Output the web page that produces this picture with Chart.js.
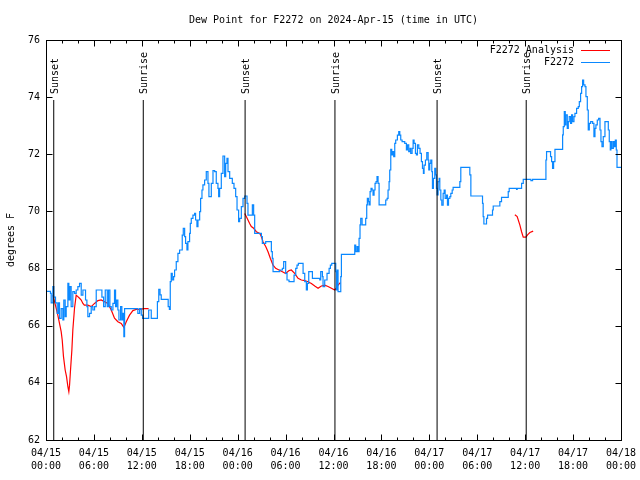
<!DOCTYPE html>
<html>
<head>
<meta charset="utf-8">
<script src="https://cdn.jsdelivr.net/npm/chart.js@4.4.1/dist/chart.umd.min.js"></script>
<style>body{margin:0;background:#fff}</style>
</head>
<body>
<canvas id="myChart" width="640" height="480"></canvas>
<script>
// hours since 2024-04-15 00:00 UTC
const obsHours = [
    0, 0.56, 0.65, 0.86, 0.98, 1.19, 1.4, 1.57, 1.69, 1.9, 2.11, 2.23, 2.4, 2.53, 2.74, 2.86, 2.99,
    3.15, 3.36, 3.57, 3.78, 3.99, 4.2, 4.41, 4.62, 4.95, 5.12, 5.24, 5.45, 5.66, 5.87, 6.08, 6.29,
    7.0, 7.21, 7.42, 7.67, 7.83, 8.0, 8.17, 8.38, 8.58, 8.71, 8.84, 9.0, 9.13, 9.34, 9.5, 9.63, 9.75,
    9.84, 11.5, 11.72, 11.93, 12.1, 12.86, 13.18, 13.95, 14.12, 14.28, 14.43, 15.3, 15.45, 15.56,
    15.68, 15.81, 15.98, 16.1, 16.31, 16.52, 16.73, 17.06, 17.19, 17.36, 17.48, 17.65, 17.77, 17.98,
    18.07, 18.19, 18.4, 18.61, 18.73, 18.9, 19.03, 19.24, 19.36, 19.53, 19.65, 19.86, 20.07, 20.28,
    20.4, 20.7, 20.91, 21.12, 21.32, 21.53, 21.62, 21.74, 21.95, 22.16, 22.37, 22.5, 22.66, 22.79,
    23.0, 23.33, 23.54, 23.75, 23.92, 24.12, 24.25, 24.46, 24.67, 24.88, 25.17, 25.29, 25.71, 25.84,
    26.0, 26.13, 26.97, 27.09, 27.51, 28.22, 28.34, 28.43, 29.26, 29.6, 29.76, 30.01, 30.18, 30.43,
    31.06, 31.27, 31.43, 31.6, 32.19, 32.4, 32.6, 32.73, 32.9, 33.36, 34.28, 34.4, 34.61, 34.69,
    34.9, 35.19, 35.45, 35.61, 35.78, 36.28, 36.36, 36.45, 36.57, 36.91, 36.99, 38.45, 38.66, 38.78,
    38.95, 39.07, 39.2, 39.32, 39.41, 39.58, 40.03, 40.16, 40.24, 40.37, 40.45, 40.58, 40.7, 40.83,
    40.95, 41.08, 41.2, 41.33, 41.45, 41.58, 41.71, 42.54, 42.71, 42.83, 42.96, 43.04, 43.17, 43.29,
    43.42, 43.54, 43.67, 43.79, 44.0, 44.17, 44.3, 44.42, 44.59, 44.92, 45.13, 45.26, 45.42, 45.59,
    45.67, 45.84, 45.97, 46.09, 46.26, 46.38, 46.51, 46.68, 46.84, 47.01, 47.14, 47.26, 47.34, 47.51,
    47.68, 47.85, 47.93, 48.05, 48.18, 48.31, 48.39, 48.51, 48.68, 48.81, 48.89, 48.97, 49.1, 49.23,
    49.31, 49.44, 49.56, 49.73, 49.86, 49.98, 50.15, 50.27, 50.4, 50.57, 50.69, 50.86, 50.98, 51.82,
    51.94, 53.07, 53.2, 54.66, 54.74, 54.83, 55.16, 55.29, 55.91, 56.0, 56.83, 57.04, 57.88, 58.0,
    58.92, 59.0, 59.55, 59.76, 60.72, 60.93, 62.6, 62.68, 63.18, 63.31, 63.43, 63.56, 63.73, 64.69,
    64.77, 64.9, 65.02, 65.1, 65.27, 65.4, 65.52, 65.69, 65.81, 65.94, 66.11, 66.23, 66.44, 66.65,
    66.78, 66.94, 67.07, 67.19, 67.32, 67.49, 67.61, 67.78, 67.9, 68.03, 68.2, 68.45, 68.61, 68.74,
    68.86, 69.03, 69.2, 69.37, 69.49, 69.62, 69.78, 69.99, 70.41, 70.53, 70.66, 70.74, 70.87, 71.04,
    71.16, 71.29, 71.41, 71.5, 72
];
const obsDewPt = [
    67.2, 67.13, 66.8, 67.37, 67.0, 66.8, 66.43, 66.8, 66.26, 66.6, 66.2, 66.9, 66.32, 66.67, 67.48, 66.9, 67.37,
    66.67, 67.19, 67.13, 67.25, 67.37, 67.48, 67.07, 67.25, 66.9, 66.67, 66.32, 66.43, 66.67, 66.55, 66.67, 67.25,
    67.0, 66.67, 67.25, 66.67, 67.25, 66.67, 66.55, 66.78, 67.25, 66.67, 66.9, 66.55, 66.2, 66.67, 66.2, 66.43, 65.62,
    66.6, 66.43, 66.6, 66.37, 66.26, 66.55, 66.26, 66.84, 67.27, 67.08, 66.92, 66.67, 66.57, 67.54,
    67.83, 67.6, 67.72, 67.95, 68.24, 68.53, 68.65, 69.17, 69.41, 69.12, 68.88, 68.65, 68.94, 69.23,
    69.58, 69.76, 69.87, 69.93, 69.7, 69.47, 69.7, 69.99, 70.46, 70.75, 70.93, 71.1, 71.39, 70.98,
    70.52, 70.98, 71.43, 71.39, 70.98, 70.81, 70.52, 70.81, 71.33, 71.94, 71.22, 71.68, 71.86, 71.39,
    71.16, 70.98, 70.81, 70.52, 70.05, 69.64, 69.76, 70.17, 70.46, 70.54, 70.28, 69.87, 69.87, 70.23,
    69.87, 69.23, 69.12, 68.88, 68.94, 68.59, 68.36, 67.89, 67.95, 68.01, 68.24, 67.83, 67.6, 67.54,
    67.77, 68.01, 68.12, 68.18, 67.83, 67.54, 67.25, 67.48, 67.89, 67.66, 67.6, 67.89, 67.72, 67.37,
    67.6, 67.83, 68.01, 68.12, 68.18, 67.89, 67.25, 67.95, 67.19, 67.72, 68.5, 68.5, 68.82, 68.59,
    68.77, 68.59, 69.06, 69.53, 69.76, 69.53, 69.76, 70.23, 70.46, 70.34, 70.23, 70.69, 70.81, 70.75,
    70.57, 70.75, 70.98, 71.04, 71.22, 70.98, 70.23, 70.4, 70.46, 70.75, 71.04, 71.45, 72.17, 71.98,
    72.09, 71.92, 72.38, 72.5, 72.67, 72.79, 72.67, 72.5, 72.44, 72.38, 72.15, 72.33, 72.09, 72.21,
    72.03, 72.21, 72.5, 72.38, 72.03, 71.98, 72.33, 72.21, 72.03, 71.74, 71.51, 71.33, 71.62, 71.8,
    72.06, 71.8, 71.45, 71.68, 71.8, 71.39, 70.81, 71.16, 71.51, 71.28, 70.81, 70.58, 71.04, 71.16,
    70.75, 70.4, 70.22, 70.63, 70.75, 70.46, 70.57, 70.22, 70.46, 70.52, 70.63, 70.75, 70.84, 71.04,
    71.54, 71.28, 70.54, 70.28, 69.82, 69.56, 69.76, 69.87, 70.05, 70.19, 70.34, 70.49, 70.69, 70.81,
    70.77, 70.81, 70.98, 71.12, 71.08, 71.12, 71.8, 72.09, 71.92, 71.74, 71.51, 71.74, 72.17, 72.68,
    72.97, 73.49, 73.03, 73.38, 72.91, 73.14, 73.32, 73.08, 73.38, 73.14, 73.32, 73.43, 73.61, 73.67,
    73.84, 74.13, 74.37, 74.6, 74.43, 74.37, 74.02, 73.55, 72.85, 73.08, 73.14, 73.08, 72.62, 72.91,
    73.03, 73.2, 73.26, 72.85, 72.44, 72.27, 72.62, 73.14, 72.85, 72.44, 72.15, 72.44, 72.21, 72.44,
    72.27, 72.5, 72.15, 71.54, 71.54
];

// analysis series, null = no analysis
const anaHours = [
    0.86, 1.07, 1.28, 1.48, 1.69, 1.9, 2.03, 2.19, 2.4, 2.57, 2.74, 2.86, 2.95, 3.07, 3.24, 3.36, 3.57,
    3.78, 3.99, 4.2, 4.41, 4.62, 4.8, 5.24, 5.66, 6.08, 6.5, 6.91, 7.33, 7.75, 8.17, 8.58, 9.0, 9.42,
    9.75, 10.05, 10.46, 10.88, 11.3, 11.72, 12.3, 12.85,
    18,
    24.88, 25.08, 25.29, 25.5, 25.71, 26.0, 26.34, 26.76, 26.97, 27.17, 27.51, 27.8, 28.09, 28.43,
    28.76, 29.18, 29.6, 30.01, 30.43, 30.72, 31.14, 31.56, 31.98, 32.4, 32.81, 33.23, 33.65, 34.07,
    34.48, 34.9, 35.32, 35.74, 36.15, 36.36, 36.57, 36.86,
    45,
    58.71, 59.0, 59.34, 59.55, 59.76, 60.09, 60.3, 60.59, 61.0
];
const anaDewPt = [
    67.07, 66.84, 66.61, 66.37, 66.08, 65.79, 65.5, 64.92, 64.45, 64.22, 63.87, 63.69, 63.92, 64.45, 65.15, 65.85, 66.61,
    67.07, 67.02, 66.96, 66.9, 66.78, 66.72, 66.72, 66.67, 66.78, 66.88, 66.9, 66.84, 66.78, 66.55, 66.26, 66.14, 66.08,
    65.94, 66.14, 66.37, 66.53, 66.57, 66.57, 66.6, 66.6,
    null,
    69.93, 69.82, 69.7, 69.58, 69.47, 69.41, 69.29, 69.23, 69.12, 68.94, 68.77, 68.59, 68.36, 68.12,
    68.01, 67.95, 67.89, 67.83, 67.93, 67.95, 67.83, 67.66, 67.6, 67.58, 67.54, 67.48, 67.39, 67.31,
    67.39, 67.42, 67.37, 67.31, 67.25, 67.31, 67.42, 67.51,
    null,
    69.88, 69.82, 69.52, 69.29, 69.1, 69.1, 69.18, 69.26, 69.31
];

const eventHours = [0.97, 12.18, 24.93, 36.18, 48.97, 60.13];
const eventNames = ['Sunset', 'Sunrise', 'Sunset', 'Sunrise', 'Sunset', 'Sunrise'];
const eventTop = 73.9;

const tickDates = ['04/15', '04/15', '04/15', '04/15', '04/16', '04/16', '04/16', '04/16',
    '04/17', '04/17', '04/17', '04/17', '04/18'];
const tickTimes = ['00:00', '06:00', '12:00', '18:00', '00:00', '06:00', '12:00', '18:00',
    '00:00', '06:00', '12:00', '18:00', '00:00'];

function toXY(xs, ys) {
    return xs.map((x, i) => ({x: x, y: ys[i]}));
}

Chart.defaults.font.family = '"DejaVu Sans Mono", monospace';
Chart.defaults.font.size = 10;
Chart.defaults.color = '#000';

const datasets = [
    {
        label: 'F2272 Analysis',
        data: toXY(anaHours, anaDewPt),
        borderColor: '#ff0000',
        borderWidth: 1.2,
        pointRadius: 0,
        spanGaps: false,
        order: 2
    },
    {
        label: 'F2272',
        data: toXY(obsHours, obsDewPt),
        borderColor: '#0a88ff',
        borderWidth: 1.2,
        pointRadius: 0,
        stepped: true,
        order: 1
    }
];
eventHours.forEach(h => {
    datasets.push({
        label: '',
        data: [{x: h, y: 62}, {x: h, y: eventTop}],
        borderColor: '#000',
        borderWidth: 1,
        pointRadius: 0,
        order: 0
    });
});

// inward ticks on all four sides, like gnuplot
const frameTicks = {
    id: 'frameTicks',
    afterDraw(chart) {
        const {ctx, chartArea: a, scales: {x, y}} = chart;
        const L = Math.round(a.left) + 0.5, R = Math.round(a.right) + 0.5;
        const T = Math.round(a.top) + 0.5, B = Math.round(a.bottom) + 0.5;
        ctx.save();
        ctx.strokeStyle = '#000';
        ctx.lineWidth = 1;
        ctx.beginPath();
        x.ticks.forEach(t => {
            const px = Math.round(x.getPixelForValue(t.value)) + 0.5;
            const len = t.value % 6 === 0 ? 6 : 3;
            ctx.moveTo(px, B); ctx.lineTo(px, B - len);
            ctx.moveTo(px, T); ctx.lineTo(px, T + len);
        });
        y.ticks.forEach(t => {
            const py = Math.round(y.getPixelForValue(t.value)) + 0.5;
            ctx.moveTo(L, py); ctx.lineTo(L + 6, py);
            ctx.moveTo(R, py); ctx.lineTo(R - 6, py);
        });
        ctx.stroke();
        ctx.strokeRect(L, T, R - L, B - T);

        // sunrise / sunset labels
        ctx.fillStyle = '#000';
        ctx.font = '10px "DejaVu Sans Mono", monospace';
        ctx.textAlign = 'left';
        ctx.textBaseline = 'middle';
        eventHours.forEach((h, i) => {
            const px = x.getPixelForValue(h) + 1.5;
            const py = y.getPixelForValue(eventTop) - 6;
            ctx.save();
            ctx.translate(px, py);
            ctx.rotate(-Math.PI / 2);
            ctx.fillText(eventNames[i], 0, 0);
            ctx.restore();
        });

        // key in the top right corner
        ctx.textAlign = 'right';
        for (let i = 0; i < 2; i++) {
            const ds = chart.data.datasets[i];
            const ky = 50 + i * 12;
            ctx.fillText(ds.label, 574, ky);
            ctx.strokeStyle = ds.borderColor;
            ctx.beginPath();
            ctx.moveTo(581, ky + 0.5);
            ctx.lineTo(610, ky + 0.5);
            ctx.stroke();
        }
        ctx.restore();
    }
};

new Chart(document.getElementById('myChart'), {
    type: 'line',
    data: {datasets: datasets},
    options: {
        responsive: false,
        devicePixelRatio: 1,
        animation: false,
        layout: {padding: {left: 0, right: 19, top: 0, bottom: 0}},
        plugins: {
            legend: {display: false},
            tooltip: {enabled: false},
            title: {
                display: true,
                text: 'Dew Point for F2272 on 2024-Apr-15 (time in UTC)',
                fullSize: false,
                font: {size: 10, weight: 'normal'},
                color: '#000',
                padding: {top: 14, bottom: 14}
            }
        },
        scales: {
            x: {
                type: 'linear',
                min: 0,
                max: 72,
                grid: {display: false, drawTicks: false},
                border: {display: false},
                afterFit: s => {
                    s.height = 40;
                    s.paddingLeft = 15;
                    s.paddingRight = 15;
                },
                ticks: {
                    stepSize: 2,
                    autoSkip: false,
                    maxRotation: 0,
                    padding: 7,
                    font: {size: 10, lineHeight: 1.3},
                    callback: v => v % 6 === 0 ? [tickDates[v / 6], tickTimes[v / 6]] : ''
                }
            },
            y: {
                min: 62,
                max: 76,
                grid: {display: false, drawTicks: false},
                border: {display: false},
                afterFit: s => { s.width = 46; },
                ticks: {stepSize: 2, padding: 6},
                title: {
                    display: true,
                    text: 'degrees F',
                    font: {size: 10},
                    padding: {top: 5, bottom: 0}
                }
            }
        }
    },
    plugins: [frameTicks]
});
</script>
</body>
</html>
